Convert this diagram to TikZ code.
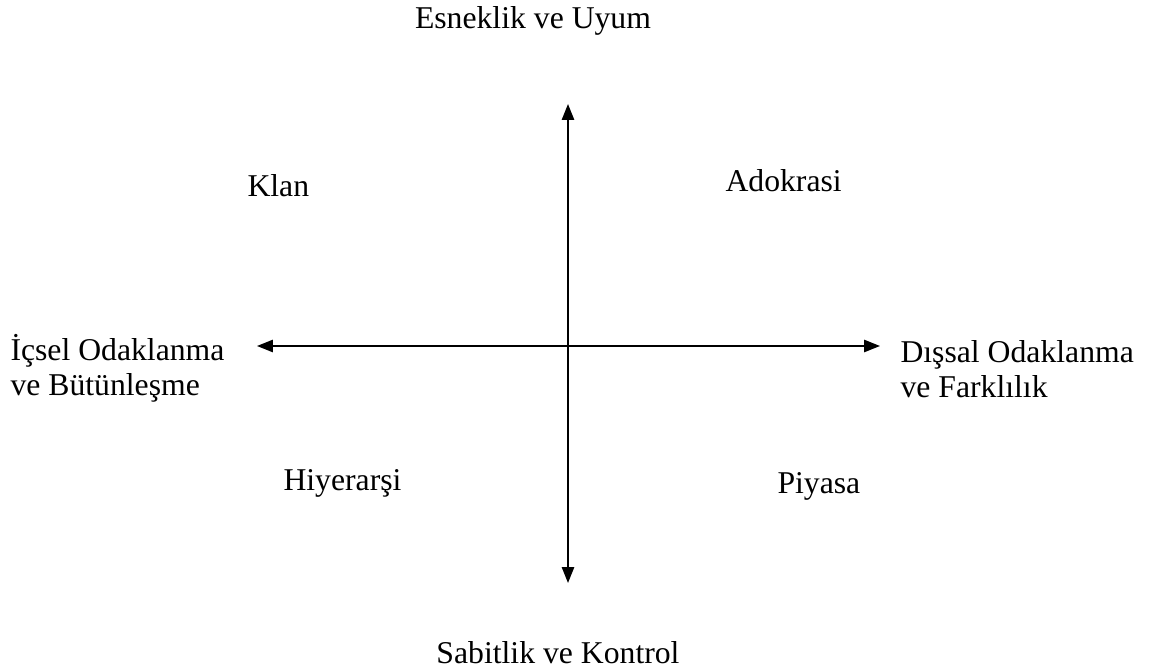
\documentclass[tikz,border=0pt]{standalone}
\usepackage{fontspec}
\setmainfont{Liberation Serif}
\usetikzlibrary{positioning}
\usetikzlibrary{calc,arrows.meta}

\begin{document}
\begin{tikzpicture}[
    x=0.3785pt, y=-0.3785pt, % one unit = one pixel of the layout
    font=\fontsize{12}{13}\selectfont,
    >={Triangle[length=6pt,width=4.6pt]}
  ]

  % Global Style Definitions
  \tikzset{
    lbl/.style={inner sep=0pt, anchor=base west, align=left},
    axis/.style={<->, line width=0.75pt, black}
  }

  \useasboundingbox (0,0) rectangle (1151,671);

  % Axis end points
  \coordinate (top) at (568,104);
  \coordinate (bottom) at (568,583);
  \coordinate (left) at (257,346);
  \coordinate (right) at (880,346);

  % Axis labels
  \node (flex) [lbl, anchor=base] at (533,29) {Esneklik ve Uyum};
  \node (stab) [lbl, anchor=base] at (558,663) {Sabitlik ve Kontrol};
  \node (inner) [lbl] at (10,395) {İçsel Odaklanma\\ve Bütünleşme};
  \node (outer) [lbl] at (900,397) {Dışsal Odaklanma\\ve Farklılık};

  % Quadrant labels
  \node (clan) [lbl] at (247,196) {Klan};
  \node (adhoc) [lbl] at (725,192) {Adokrasi};
  \node (hier) [lbl] at (283,490) {Hiyerarşi};
  \node (market) [lbl] at (777,493) {Piyasa};

  % Cross of axes
  \draw[axis] (top) -- (bottom);
  \draw[axis] (left) -- (right);

\end{tikzpicture}
\end{document}
